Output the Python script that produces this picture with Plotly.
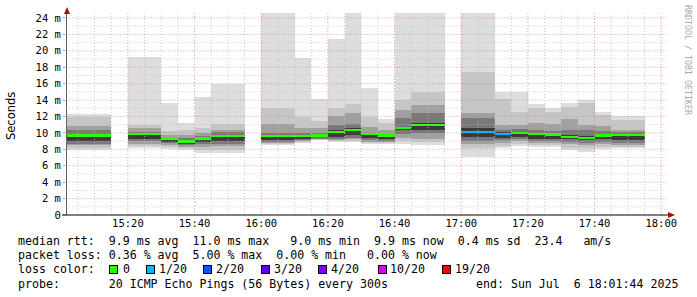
import pandas as pd
import plotly.graph_objects as go

DAY = "2025-07-06"
bin_start = ["15:00", "15:05", "15:10", "15:20", "15:25", "15:30", "15:35", "15:40", "15:45", "15:50",
             "16:00", "16:05", "16:10", "16:15", "16:20", "16:25", "16:30", "16:35", "16:40", "16:45", "16:50",
             "17:00", "17:05", "17:10", "17:15", "17:20", "17:25", "17:30", "17:35", "17:40", "17:45", "17:50"]
# sorted-ping quantile layers per 5-min step (ms)
ping_max = [12.3, 12.3, 12.3, 19.2, 19.2, 13.7, 11.2, 14.4, 15.9, 15.9, 27.0, 27.0, 19.1, 14.1, 21.4, 27.0,
            15.5, 11.7, 27.0, 27.0, 27.0, 27.0, 27.0, 15.0, 15.0, 13.5, 13.0, 13.6, 14.0, 12.5, 12.0, 12.0]
ping_hi2 = [11.9, 11.9, 11.9, 11.0, 11.0, 10.2, 10.4, 10.6, 11.05, 11.05, 13.0, 13.0, 11.9, 11.4, 13.0, 13.5,
            11.9, 11.2, 14.0, 14.95, 14.95, 17.45, 17.45, 14.1, 12.6, 13.0, 12.5, 13.2, 13.6, 12.2, 11.6, 11.6]
ping_hi3 = [10.9, 10.9, 10.9, 10.6, 10.6, 9.8, 9.7, 10.0, 10.4, 10.4, 11.1, 11.1, 10.55, 10.55, 12.0, 12.4,
            10.75, 10.3, 12.8, 13.4, 13.4, 12.4, 12.4, 11.0, 11.0, 11.2, 11.05, 11.7, 11.0, 10.8, 10.4, 10.4]
ping_hi4 = [10.3, 10.3, 10.3, 10.15, 10.15, 9.55, 9.35, 9.65, 10.1, 10.1, 10.0, 10.0, 10.0, 10.0, 10.95, 11.1,
            10.0, 9.9, 11.8, 12.4, 12.4, 11.8, 11.8, 10.4, 10.5, 10.3, 10.2, 10.4, 10.3, 10.2, 10.1, 10.1]
ping_hi5 = [9.8, 9.8, 9.8, 9.95, 9.95, 9.4, 9.1, 9.45, 9.7, 9.7, 9.7, 9.7, 9.75, 9.8, 10.3, 10.55,
            9.95, 9.8, 10.7, 11.25, 11.25, 10.55, 10.55, 10.1, 10.1, 9.95, 9.9, 9.7, 9.6, 9.85, 9.85, 9.85]
median_rtt = [9.7, 9.7, 9.7, 9.9, 9.9, 9.3, 8.95, 9.3, 9.6, 9.6, 9.6, 9.6, 9.65, 9.7, 10.15, 10.35,
              9.85, 9.7, 10.6, 11.0, 11.0, 10.1, 10.1, 9.9, 9.95, 9.85, 9.8, 9.5, 9.4, 9.7, 9.75, 9.75]
ping_lo5 = [9.0, 9.0, 9.0, 9.2, 9.2, 8.95, 8.7, 8.95, 9.0, 9.0, 9.1, 9.1, 9.3, 9.45, 9.55, 9.75,
            9.4, 9.3, 10.3, 10.35, 10.35, 9.55, 9.55, 9.4, 9.5, 9.3, 9.3, 9.2, 9.1, 9.2, 9.1, 9.1]
ping_lo4 = [8.7, 8.7, 8.7, 9.0, 9.0, 8.75, 8.5, 8.6, 8.7, 8.7, 8.9, 8.9, 9.15, 9.3, 9.3, 9.4,
            9.1, 9.0, 9.9, 10.0, 10.0, 9.0, 9.0, 9.1, 9.2, 9.0, 9.0, 8.9, 8.8, 8.9, 8.8, 8.8]
ping_lo3 = [8.5, 8.5, 8.5, 8.7, 8.7, 8.5, 8.3, 8.3, 8.4, 8.4, 8.75, 8.75, 9.0, 9.2, 9.15, 9.2,
            8.9, 8.85, 9.4, 9.3, 9.3, 8.6, 8.6, 8.8, 9.0, 8.8, 8.8, 8.6, 8.5, 8.6, 8.5, 8.5]
ping_lo2 = [8.2, 8.2, 8.2, 8.45, 8.45, 8.3, 8.1, 7.95, 7.9, 7.9, 8.6, 8.6, 8.9, 9.15, 9.0, 9.0,
            8.8, 8.75, 9.0, 8.9, 8.9, 8.2, 8.2, 8.45, 8.7, 8.5, 8.5, 8.2, 8.1, 8.3, 8.3, 8.3]
ping_min = [7.95, 7.95, 7.95, 8.2, 8.2, 8.05, 7.9, 7.6, 7.5, 7.5, 8.5, 8.5, 8.8, 9.1, 8.9, 8.9,
            8.7, 8.65, 8.65, 8.5, 8.5, 7.1, 7.1, 8.1, 8.45, 8.25, 8.25, 7.9, 7.7, 8.0, 8.1, 8.1]
loss_count = [0, 0, 0, 0, 0, 0, 0, 0, 0, 0, 0, 0, 0, 0, 0, 0,
              0, 0, 0, 0, 0, 1, 1, 1, 0, 0, 0, 0, 0, 0, 0, 0]

loss_levels = ["0", "1/20", "2/20", "3/20", "4/20", "10/20", "19/20"]
loss_values = [0, 1, 2, 3, 4, 10, 19]
loss_colors = ["#26ff00", "#00b8ff", "#0059ff", "#5e00ff", "#7e00ff", "#dd00ff", "#ff0000"]

y_ticks = [0, 2, 4, 6, 8, 10, 12, 14, 16, 18, 20, 22, 24]
y_ticktext = ["0"] + [f"{v} m" for v in y_ticks[1:]]

stats_rtt = "median rtt:  9.9 ms avg  11.0 ms max   9.0 ms min  9.9 ms now  0.4 ms sd  23.4   am/s"
stats_loss = "packet loss: 0.36 % avg  5.00 % max  0.00 % min   0.00 % now"
probe_text = "probe:       20 ICMP Echo Pings (56 Bytes) every 300s"
end_text = "end: Sun Jul  6 18:01:44 2025"

for arr in [ping_max, ping_hi2, ping_hi3, ping_hi4, ping_hi5, median_rtt, ping_lo5, ping_lo4,
            ping_lo3, ping_lo2, ping_min, loss_count]:
    assert len(arr) == len(bin_start), len(arr)

STEP_MS = 300000
starts = pd.to_datetime([f"{DAY} {t}" for t in bin_start])
centers = [str(s + pd.Timedelta(seconds=150)) for s in starts]

fig = go.Figure()
layers = [(ping_min, ping_max, "#dddddd"), (ping_lo2, ping_hi2, "#c6c6c6"),
          (ping_lo3, ping_hi3, "#a0a0a0"), (ping_lo4, ping_hi4, "#787878"),
          (ping_lo5, ping_hi5, "#3a3a3a")]
for lo, hi, col in layers:
    fig.add_trace(go.Bar(x=centers, y=[h - l for l, h in zip(lo, hi)], base=lo, width=STEP_MS,
                         marker=dict(color=col, line=dict(width=0)), hoverinfo="skip"))

cmap = dict(zip(loss_values, loss_colors))
MED_H = 0.28
fig.add_trace(go.Bar(x=centers, y=[MED_H] * len(median_rtt), base=[m - MED_H / 2 for m in median_rtt],
                     width=STEP_MS, marker=dict(color=[cmap[c] for c in loss_count], line=dict(width=0)),
                     hoverinfo="skip"))

L, R, T, B, W, H = 67, 30, 13, 82, 697, 297
PW, PH = W - L - R, H - T - B
YMAX = 24.6


def px(x):
    return (x - L) / PW


def py(y):
    return (H - B - y) / PH


# grid drawn above the smoke (as rrdtool does)
shapes = []
gx = pd.date_range(f"{DAY} 15:05", f"{DAY} 18:00", freq="5min")
for t in gx:
    major = t.minute % 20 == 0
    shapes.append(dict(type="line", xref="x", yref="y", x0=str(t), x1=str(t), y0=0, y1=YMAX,
                       line=dict(color="rgba(225,120,120,0.75)" if major else "rgba(190,190,190,0.8)",
                                 width=1, dash="1px,2px"), layer="above"))
for v in range(1, 25):
    major = v % 2 == 0
    shapes.append(dict(type="line", xref="paper", yref="y", x0=-0.006, x1=1, y0=v, y1=v,
                       line=dict(color="rgba(225,120,120,0.75)" if major else "rgba(190,190,190,0.8)",
                                 width=1, dash="1px,2px"), layer="above"))
# axis arrows
shapes.append(dict(type="path", xref="paper", yref="paper",
                   path=f"M {px(64)} {py(14)} L {px(70)} {py(14)} L {px(67)} {py(7)} Z",
                   fillcolor="#a01010", line=dict(width=0)))
shapes.append(dict(type="path", xref="paper", yref="paper",
                   path=f"M {px(668)} {py(212)} L {px(668)} {py(218)} L {px(675)} {py(215)} Z",
                   fillcolor="#a01010", line=dict(width=0)))
shapes.append(dict(type="line", xref="paper", yref="paper", x0=px(62), x1=px(668), y0=0, y1=0,
                   line=dict(color="#000000", width=1)))

MONO = "DejaVu Sans Mono"
FS = 11.6
ann = []
ann.append(dict(text="Seconds", x=px(11), y=py(116), xref="paper", yref="paper", textangle=-90,
                xanchor="center", yanchor="middle",
                showarrow=False, font=dict(family="DejaVu Sans", size=11.5, color="#000")))
ann.append(dict(text="RRDTOOL / TOBI OETIKER", x=px(688), y=py(60), xref="paper", yref="paper",
                xanchor="center", yanchor="middle",
                textangle=90, showarrow=False, font=dict(family=MONO, size=8.3, color="#aaaaaa")))
for txt, yy in [(stats_rtt, 241), (stats_loss, 255), ("loss color:", 269), (probe_text, 284)]:
    ann.append(dict(text=txt.replace(" ", "&nbsp;"), x=px(16), y=py(yy), xref="paper", yref="paper",
                    xanchor="left", yanchor="middle", showarrow=False,
                    font=dict(family=MONO, size=FS, color="#000")))
ann.append(dict(text=end_text.replace(" ", "&nbsp;"), x=px(680), y=py(284), xref="paper", yref="paper",
                xanchor="right", yanchor="middle", showarrow=False,
                font=dict(family=MONO, size=FS, color="#000")))
box_x = [109, 146, 203, 261, 318, 378, 442]
lab_x = [121, 157, 214, 272, 329, 388, 453]
for lvl, col, bx, lx in zip(loss_levels, loss_colors, box_x, lab_x):
    ann.append(dict(text=" ", x=px(bx), y=py(269), xref="paper", yref="paper", xanchor="left",
                    yanchor="middle", showarrow=False, width=7, height=7, bgcolor=col,
                    bordercolor="#000", borderwidth=1, borderpad=0, font=dict(size=4)))
    ann.append(dict(text=lvl, x=px(lx), y=py(269), xref="paper", yref="paper", xanchor="left",
                    yanchor="middle", showarrow=False, font=dict(family=MONO, size=FS, color="#000")))

fig.update_layout(
    width=W, height=H, autosize=False, margin=dict(l=L, r=R, t=T, b=B, pad=0),
    paper_bgcolor="white", plot_bgcolor="white", barmode="overlay", bargap=0, showlegend=False,
    shapes=shapes, annotations=ann,
    xaxis=dict(type="date", range=[f"{DAY} 15:01:44", f"{DAY} 18:01:44"], tickformat="%H:%M",
               tick0=f"{DAY} 15:00", dtick=1200000, showgrid=False, zeroline=False, showline=False,
               ticks="", tickfont=dict(family=MONO, size=10.5, color="#000"), fixedrange=True),
    yaxis=dict(range=[0, YMAX], tickmode="array", tickvals=y_ticks, ticktext=y_ticktext,
               showgrid=False, zeroline=False, showline=True, linecolor="#606060", linewidth=1,
               ticks="outside", ticklen=3, tickcolor="#c0c0c0",
               tickfont=dict(family=MONO, size=10.5, color="#000"), fixedrange=True),
)
fig.write_html("out.html")
